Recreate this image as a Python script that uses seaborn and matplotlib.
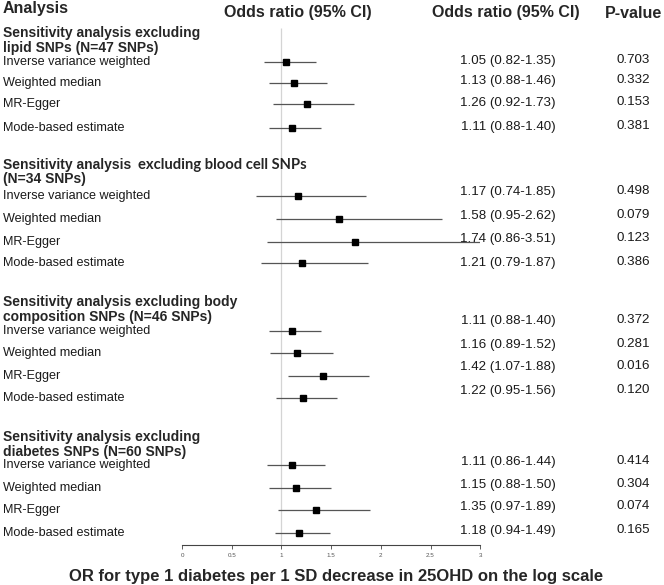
import matplotlib
matplotlib.use("Agg")
import matplotlib.pyplot as plt
import numpy as np
import seaborn as sns

sns.set_style("white")
plt.rcParams["font.family"] = ["Liberation Sans", "DejaVu Sans"]

# ---- data ----
group_titles = [
    ["Sensitivity analysis excluding", "lipid SNPs (N=47 SNPs)"],
    ["Sensitivity analysis  excluding blood cell SNPs", "(N=34 SNPs)"],
    ["Sensitivity analysis excluding body", "composition SNPs (N=46 SNPs)"],
    ["Sensitivity analysis excluding", "diabetes SNPs (N=60 SNPs)"],
]
methods = ["Inverse variance weighted", "Weighted median", "MR-Egger", "Mode-based estimate"]

or_est = [[1.05, 1.13, 1.26, 1.11],
          [1.17, 1.58, 1.74, 1.21],
          [1.11, 1.16, 1.42, 1.22],
          [1.11, 1.15, 1.35, 1.18]]
ci_low = [[0.82, 0.88, 0.92, 0.88],
          [0.74, 0.95, 0.86, 0.79],
          [0.88, 0.89, 1.07, 0.95],
          [0.86, 0.88, 0.97, 0.94]]
ci_high = [[1.35, 1.46, 1.73, 1.40],
           [1.85, 2.62, 3.51, 1.87],
           [1.40, 1.52, 1.88, 1.56],
           [1.44, 1.50, 1.89, 1.49]]
p_values = [["0.703", "0.332", "0.153", "0.381"],
            ["0.498", "0.079", "0.123", "0.386"],
            ["0.372", "0.281", "0.016", "0.120"],
            ["0.414", "0.304", "0.074", "0.165"]]
x_ticks = [0, 0.5, 1, 1.5, 2, 2.5, 3]

# ---- layout (pixel rows from top) ----
W, H = 664, 585
header_y = [[33, 48], [165, 179], [302, 317], [437, 452]]
row_y = [[62, 83, 104, 128],
         [196, 219, 242, 263],
         [331, 353, 376, 398],
         [465, 488, 510, 533]]
text_y = [[61, 81, 103, 127],
          [192, 216, 239, 263],
          [321, 345, 367, 391],
          [462, 485, 507, 531]]

fig = plt.figure(figsize=(W / 100, H / 100), dpi=100)
ax_top = 545
x0, ppu = 182, 99.4
ax = fig.add_axes([x0 / W, (H - ax_top) / H, 3 * ppu / W, ax_top / H])
ax.set_xlim(0, 3)
ax.set_ylim(ax_top, 0)


def fy(py):
    return 1 - py / H


def fx(px):
    return px / W


txt_col = "#1a1a1a"
ax.vlines(1, 28, ax_top, color="#d4d4d4", lw=0.9, zorder=1)

for g in range(4):
    for m in range(4):
        y = row_y[g][m]
        ax.hlines(y, ci_low[g][m], ci_high[g][m], color="#555555", lw=0.9, zorder=2)
        ax.plot(or_est[g][m], y, marker="s", ms=5, color="black", zorder=3)
        fig.text(fx(3), fy(y), methods[m], fontsize=9.1, va="center", ha="left", color=txt_col)
        fig.text(fx(508), fy(text_y[g][m]),
                 f"{or_est[g][m]:.2f} ({ci_low[g][m]:.2f}-{ci_high[g][m]:.2f})",
                 fontsize=9.6, va="center", ha="center", color=txt_col)
        fig.text(fx(633), fy(text_y[g][m] - 1), p_values[g][m], fontsize=9.6,
                 va="center", ha="center", color=txt_col)
    for line, ly in zip(group_titles[g], header_y[g]):
        if g == 1 and line.startswith("Sensitivity analysis  "):
            # second half of this title is set in another typeface
            fig.text(fx(3), fy(ly), "Sensitivity analysis", fontsize=10, fontweight="bold",
                     va="center", ha="left")
            fig.text(fx(138), fy(ly), line.split("  ")[1], fontsize=10.6, fontweight="bold",
                     va="center", ha="left", family=["Lato", "DejaVu Sans"])
        else:
            fig.text(fx(3), fy(ly), line, fontsize=10, fontweight="bold",
                     va="center", ha="left")

# column headers
hdr = dict(fontsize=11.5, fontweight="bold", va="center")
fig.text(fx(3), fy(8), "Analysis", ha="left", **hdr)
fig.text(fx(298), fy(12), "Odds ratio (95% CI)", ha="center", **hdr)
fig.text(fx(506), fy(13), "Odds ratio (95% CI)", ha="center", **hdr)
fig.text(fx(633), fy(13), "P-value", ha="center", **hdr)

# axis
for s in ["top", "right", "left"]:
    ax.spines[s].set_visible(False)
ax.spines["bottom"].set_color("#444444")
ax.spines["bottom"].set_linewidth(0.8)
ax.set_yticks([])
ax.set_xticks(x_ticks)
ax.set_xticklabels([f"{t:g}" for t in x_ticks])
ax.tick_params(axis="x", length=3, width=0.6, color="#444444", labelsize=4.5,
               labelcolor="#555555", pad=3, bottom=True)

fig.text(fx(336), fy(577), "OR for type 1 diabetes per 1 SD decrease in 25OHD on the log scale",
         fontsize=12, fontweight="bold", ha="center", va="center")

fig.savefig("out.png", dpi=100)
